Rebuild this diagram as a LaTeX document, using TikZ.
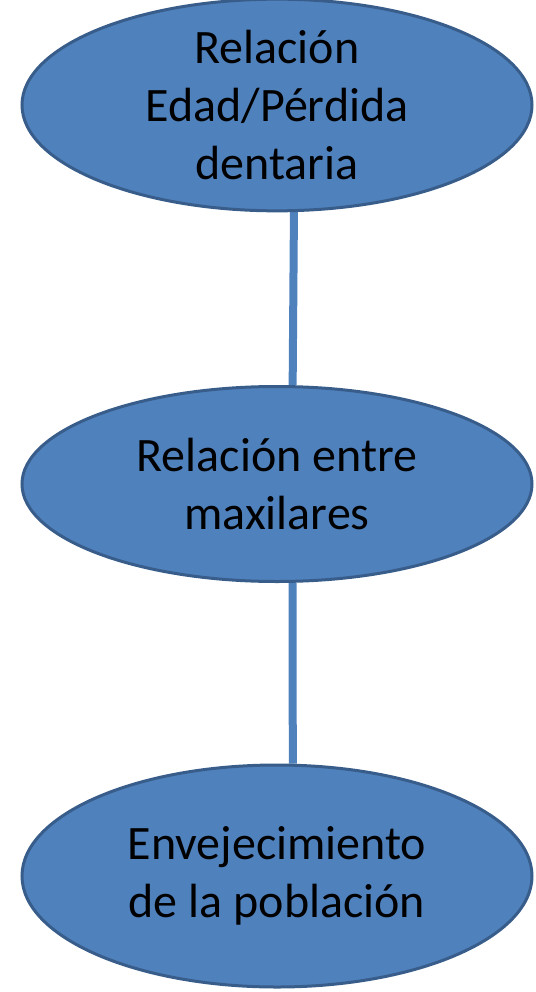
\documentclass[tikz,border=0pt]{standalone}
\usepackage{fontspec}
\setmainfont{Carlito}
\usetikzlibrary{shapes.geometric,backgrounds}

\definecolor{bubblefill}{HTML}{4F81BD}
\definecolor{bubbleline}{HTML}{385D8A}

\begin{document}
\begin{tikzpicture}[
    x=1pt, y=-1pt,
    bubble/.style={ellipse, draw=bubbleline, fill=bubblefill, line width=3pt,
                   minimum width=510pt, inner sep=0pt, align=center,
                   font=\fontsize{48}{58}\selectfont},
    link/.style={draw=bubblefill, line width=8pt}
]
\useasboundingbox (0,0) rectangle (535,992);

% Three stages
\node[bubble, minimum height=198pt] (edad) at (277,105) {Relación\\Edad/Pérdida\\dentaria};
\node[bubble, minimum height=195pt] (maxilares) at (277,484) {Relación entre\\maxilares};
\node[bubble, minimum height=222pt] (envejec) at (277,876) {Envejecimiento\\de la población};

% Connectors behind the bubbles
\begin{scope}[on background layer]
\draw[link] (edad.-81) -- (maxilares.81);
\draw[link] (maxilares.-81) -- (envejec.82);
\end{scope}

\end{tikzpicture}
\end{document}
